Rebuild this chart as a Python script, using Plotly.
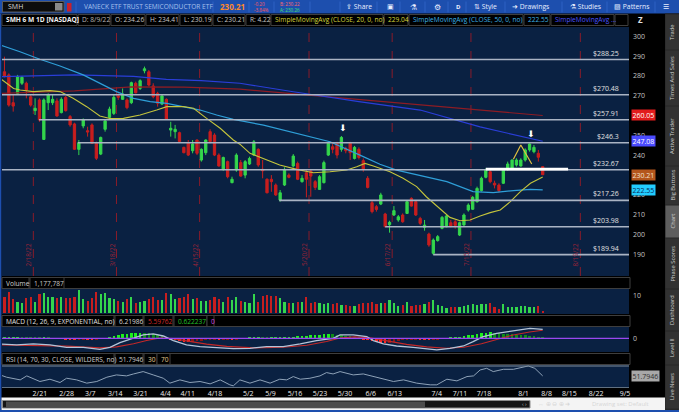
import plotly.graph_objects as go

W, H = 679, 412

# ---------------- data: x is the trading day, 0 = 2/18/22 ----------------
first_day = -6  # 2/10/22

opens = [282.1, 280.5, 266.5, 271.2, 276.3, 276.3, 269.5, 262.5, 267.9, 248.0,
         266.5, 266.5, 267.4, 261.5, 269.2, 259.5, 255.8, 243.0, 254.8, 252.4,
         255.3, 246.0, 240.6, 253.1, 259.1, 261.1, 269.9, 268.2, 267.9, 266.5,
         276.3, 273.7, 282.6, 282.1, 274.9, 271.2, 265.8, 268.2, 252.7, 251.9,
         251.4, 244.0, 246.4, 242.3, 247.7, 237.6, 241.3, 251.9, 250.2, 240.1,
         232.9, 236.8, 226.2, 232.6, 236.3, 230.0, 235.6, 240.1, 243.0, 232.9,
         227.9, 227.9, 225.0, 217.4, 225.0, 230.0, 234.6, 235.9, 226.7, 231.2,
         232.1, 226.7, 222.8, 226.2, 240.1, 244.3, 246.0, 243.0, 243.5, 246.0,
         238.4, 243.0, 237.3, 228.4, 216.1, 214.1, 215.4, 210.4, 205.0, 209.9,
         207.4, 209.9, 210.7, 218.3, 216.6, 208.2, 203.7, 200.3, 190.6, 197.0,
         203.2, 204.0, 206.0, 206.5, 199.8, 204.9, 212.4, 212.8, 216.6, 222.2,
         228.9, 231.7, 225.9, 225.0, 225.9, 232.9, 233.4, 235.1, 234.6, 237.6,
         242.7, 241.8, 241.0, 234.26]
highs = [289.7, 281.3, 270.4, 280.5, 280.0, 277.1, 270.4, 268.7, 268.7, 268.7,
         271.2, 270.4, 268.7, 269.2, 269.9, 260.3, 256.4, 247.7, 258.6, 254.4,
         256.1, 246.9, 249.4, 258.1, 264.5, 270.4, 271.2, 273.7, 268.7, 277.1,
         277.1, 278.3, 284.7, 283.0, 276.3, 272.0, 270.4, 268.7, 256.9, 255.3,
         251.9, 244.3, 247.7, 247.7, 248.0, 243.5, 248.0, 253.1, 251.1, 241.0,
         239.3, 237.3, 229.2, 241.0, 237.6, 237.6, 239.3, 247.7, 243.5, 237.6,
         228.4, 230.0, 225.8, 222.5, 233.9, 230.9, 240.6, 236.8, 230.0, 232.6,
         232.6, 227.5, 230.0, 237.3, 246.3, 246.0, 246.8, 249.7, 244.3, 246.8,
         244.7, 244.0, 238.4, 229.5, 217.4, 214.9, 221.1, 211.0, 207.0, 214.4,
         209.9, 210.7, 217.4, 218.8, 217.4, 209.0, 207.4, 201.0, 198.1, 199.8,
         209.4, 209.9, 207.4, 207.5, 206.5, 210.7, 215.8, 219.5, 224.2, 229.2,
         233.4, 232.6, 227.2, 225.9, 233.4, 236.8, 238.0, 238.5, 238.5, 243.5,
         246.0, 245.2, 242.7, 234.41]
lows = [279.3, 264.5, 262.0, 270.4, 275.4, 268.7, 264.5, 260.3, 256.9, 247.7,
        262.8, 265.3, 259.5, 261.1, 262.0, 254.4, 242.7, 240.1, 253.6, 249.4,
        245.7, 237.6, 240.1, 251.9, 257.8, 260.3, 267.9, 267.9, 263.2, 265.8,
        271.2, 272.9, 281.3, 274.6, 268.7, 264.5, 265.3, 257.8, 249.4, 248.5,
        246.4, 241.0, 239.6, 241.0, 240.1, 236.8, 240.1, 246.0, 239.6, 234.3,
        232.2, 228.4, 225.9, 231.7, 229.2, 228.4, 235.1, 239.6, 234.2, 228.4,
        220.8, 221.6, 219.5, 216.6, 224.5, 228.4, 233.9, 227.5, 226.2, 218.8,
        219.1, 222.5, 222.5, 225.8, 239.6, 241.0, 238.4, 241.8, 241.0, 237.6,
        237.9, 237.9, 231.7, 223.3, 210.7, 211.6, 214.9, 203.7, 201.0, 209.4,
        206.5, 206.0, 210.4, 214.1, 209.4, 204.8, 202.0, 193.9, 189.7, 196.5,
        202.7, 203.7, 203.7, 203.0, 199.3, 204.4, 211.6, 212.4, 216.1, 221.7,
        228.4, 225.9, 223.3, 221.2, 225.5, 232.2, 232.9, 234.3, 234.3, 236.8,
        241.8, 241.0, 236.8, 230.19]
closes = [279.6, 265.3, 264.8, 279.6, 279.3, 272.9, 265.3, 263.7, 257.8, 267.9,
          270.4, 268.2, 259.8, 268.2, 262.5, 255.3, 243.0, 246.4, 257.8, 251.7,
          246.0, 238.5, 249.0, 257.3, 263.3, 269.2, 269.2, 270.9, 264.0, 276.6,
          271.5, 277.6, 283.6, 275.4, 269.5, 266.2, 269.9, 258.1, 253.6, 253.1,
          246.9, 241.3, 240.1, 245.7, 241.0, 243.0, 247.7, 246.9, 240.1, 234.6,
          238.9, 229.2, 227.9, 240.1, 229.5, 236.8, 238.4, 246.8, 235.1, 232.2,
          221.1, 226.7, 220.0, 221.1, 232.9, 228.9, 239.6, 227.9, 228.4, 227.9,
          229.5, 223.8, 229.2, 236.3, 246.0, 243.0, 240.1, 249.0, 242.3, 241.3,
          244.0, 238.9, 232.9, 223.8, 211.6, 212.7, 220.0, 204.0, 206.2, 212.1,
          209.0, 206.5, 216.6, 214.4, 209.9, 205.7, 204.8, 194.8, 197.3, 199.0,
          208.7, 209.4, 204.4, 204.6, 206.0, 209.9, 214.9, 218.8, 223.3, 228.4,
          232.6, 226.7, 225.0, 222.2, 232.9, 235.6, 237.6, 237.6, 237.6, 242.7,
          245.7, 244.0, 239.0, 230.21]

# volume in millions of shares
volume_m = [9.1, 12.3, 8.0, 6.6, 5.7, 8.5, 9.1, 6.6, 11.0, 11.4,
            9.1, 9.1, 8.5, 9.1, 8.5, 8.5, 9.1, 13.3, 8.0, 7.2,
            8.5, 12.3, 11.0, 11.7, 8.5, 8.0, 7.2, 6.3, 8.0, 9.1,
            5.7, 6.3, 7.2, 8.0, 9.1, 7.6, 7.6, 11.7, 11.0, 8.0,
            8.5, 9.1, 11.0, 8.0, 8.5, 7.2, 7.2, 7.6, 9.1, 8.0,
            6.3, 9.1, 7.6, 9.1, 7.2, 6.3, 5.7, 11.0, 6.6, 9.8,
            10.4, 9.8, 9.8, 8.5, 6.6, 6.1, 5.7, 6.3, 6.6, 9.5,
            5.7, 6.6, 5.7, 5.3, 5.7, 5.3, 5.7, 4.7, 4.7, 4.2,
            4.2, 5.3, 5.7, 6.1, 6.6, 5.3, 5.7, 6.1, 7.6, 5.7,
            4.2, 4.7, 6.6, 4.2, 4.7, 4.7, 5.3, 6.6, 7.6, 4.7,
            4.2, 2.8, 3.4, 3.8, 3.8, 4.2, 4.7, 5.3, 4.7, 5.3,
            5.3, 5.7, 3.4, 2.3, 5.3, 3.8, 3.8, 3.8, 4.2, 4.2,
            3.8, 3.4, 4.2, 1.18]

macd_hist = [0.6, 0.7, 0.8, 0.9, 0.8, 0.7,
             0.6, 0.5, 0.3, 0.4, 0.3, 0.2, 0.1, -0.2,
             -0.6, -0.9, -1.1, -1.0, -0.8, -0.9, -1.0, -0.9,
             -0.3, 0.2, 0.8, 1.5, 2.2, 2.8, 3.1, 3.5, 3.8, 3.9, 3.8, 3.4, 2.8,
             2.0, 1.3, 0.5,
             -0.5, -1.3, -2.0, -2.4, -2.5, -2.3, -2.0, -1.8, -1.5,
             -1.2, -1.0, -1.0, -0.8, -0.7, -0.8, -0.5, -0.3,
             0.2, 0.4, 0.6, 0.6, 0.5, 0.4, 0.5, 0.6, 0.7, 0.9,
             1.0, 1.2, 1.3, 1.5, 1.8, 2.0, 2.4, 2.6, 3.0, 3.2, 3.0, 2.6,
             2.2, 1.8, 1.5, 1.2, 0.8,
             -0.5, -1.3, -2.2, -2.8, -3.2, -3.4, -3.0, -2.6,
             -2.0, -1.5, -1.2, -1.0, -0.8, -0.9, -1.1,
             -1.2, -1.0, -0.6, -0.2, 0.2, 0.5,
             0.8, 1.0, 1.5, 2.0, 2.6, 3.2, 3.8,
             4.0, 4.2, 3.9, 3.5, 3.3, 3.1, 2.9,
             2.6, 2.3, 2.1, 1.8, 1.5, 1.0, 0.62]

# moving averages (day, value)
sma20_day = [-7, -3.9, -2.4, 0.6, 4.4, 6.7, 9.7, 12.8, 15.8, 18.1, 21.2, 25, 28.8, 31.1,
             34.9, 37.2, 40.2, 43.3, 46.3, 47.8, 50.1, 53.2, 56.9, 60.8, 64.6, 68.4,
             72.2, 74.5, 76.4, 78.3, 82.1, 85.1, 88.2, 90.4, 93.5, 95.8, 98.1, 100.4,
             102.7, 105, 107.3, 109.6, 111.9, 114.2, 117]
sma20_val = [278.8, 273.7, 272.9, 272.1, 272.6, 272.1, 268.7, 264.5, 259.8, 258.5, 258.6,
             260.3, 262.8, 264.5, 264.5, 263.7, 258.6, 253.6, 247.7, 245.6, 241.0, 238.4,
             235.1, 232.9, 231.2, 231.7, 232.6, 234.2, 235.9, 234.6, 231.7, 228.4, 224.2,
             219.1, 213.3, 208.7, 207.0, 207.4, 209.4, 211.1, 212.4, 216.6, 221.7, 225.9,
             229.04]
sma50_day = [-7, -2.45, 2.1, 6.7, 12, 15.8, 19.6, 23.5, 27.3, 31.1, 34.9, 38.7, 42.5, 46.3,
             53.2, 60.8, 68.4, 76, 79.8, 83.6, 87.4, 91.2, 95.1, 101.1, 105.7, 110.3,
             114.2, 117]
sma50_val = [295.6, 292.2, 288.4, 285.0, 280.5, 276.3, 272.1, 268.7, 267.0, 266.2, 264.5,
             262.8, 260.3, 258.1, 255.2, 251.0, 246.8, 239.3, 235.5, 232.5, 230.5, 228.5,
             226.7, 221.7, 221.2, 222.2, 222.8, 222.55]
sma100_day = [-7, 10, 23.5, 31, 39, 47.8, 60, 75, 89, 102.7, 117]
sma100_val = [279.6, 280.5, 279.8, 278.3, 277.6, 276.3, 272.0, 267.0, 262.8, 254.3, 247.08]
sma200_day = [-7, 10, 23, 35, 47.8, 65, 85, 102.7, 117]
sma200_val = [271.2, 272.5, 274.5, 274.3, 273.3, 270.0, 266.0, 262.5, 260.05]

macd_day = [-7, -3.2, 0.6, 4.4, 8.2, 12, 15.8, 18.1, 20.4, 23.5, 25.7, 28, 30.3, 32.6,
            35.6, 38.7, 42.5, 46.3, 50.1, 53.9, 57.7, 61.6, 65.3, 69.1, 70.7, 73.7,
            76.8, 78.3, 80.6, 83.6, 87.4, 90.5, 92.8, 95.8, 98.9, 101.1, 103.4, 106.5,
            110.3, 114.1, 117]
macd_val = [-3.9, -4.6, -3.9, -4.6, -6.2, -6.2, -7.6, -6.2, -3.0, 0.0, 2.3, 3.0, 1.6,
            -1.6, -4.6, -5.7, -6.2, -7.1, -6.9, -5.7, -5.7, -3.9, -1.6, 0.0, 2.3, 2.3,
            1.2, -1.6, -3.9, -5.3, -6.2, -7.1, -8.0, -6.9, -5.3, -2.3, 1.2, 3.4, 5.3,
            6.9, 6.22]
signal_day = [-7, 0.6, 8.2, 15.8, 19.6, 23.5, 26.5, 29.5, 32.6, 35.6, 40.2, 44.8, 50.9,
              57.7, 63.1, 67.6, 70.7, 74, 77.5, 81.4, 85.9, 90.5, 95, 99, 103, 106.5,
              110.3, 114, 117]
signal_val = [-4.6, -4.8, -5.4, -6.6, -5.9, -3.8, -1.5, 0.2, -0.2, -1.8, -4.0, -5.6, -6.6,
              -6.2, -4.8, -2.2, 0.2, 1.0, 0.4, -1.8, -4.2, -5.9, -6.9, -6.2, -3.8, -0.8,
              2.3, 4.4, 5.6]

rsi_day = [-7, -5.5, -2.4, -0.9, 2.1, 4.4, 6.7, 8.2, 10.5, 12.8, 15.1, 17.4, 19.6, 21.9,
           23.5, 25.7, 28, 30.3, 31.8, 34.1, 36.4, 38.7, 41, 43.3, 45.5, 46.3, 47.8, 50.1,
           52.4, 54.7, 56.9, 58.5, 60, 61.6, 63.8, 66.1, 67.6, 69.1, 70.7, 73.7, 76, 79.1,
           82.9, 85.2, 88.2, 91.3, 92.8, 95.1, 97.4, 99.7, 101.2, 102.7, 104.2, 105.7, 108,
           110.3, 112.6, 113.7, 115.2, 117]
rsi_val = [53.6, 49.4, 44.5, 51.8, 41.5, 45.7, 39.7, 47.5, 44.5, 38.5, 41.5, 49.4, 53.6,
           51.8, 55.4, 59.7, 53.6, 47.5, 38.5, 44.5, 39.7, 41.5, 37.2, 44.5, 35.4, 33.6,
           44.5, 38.5, 44.5, 38.5, 45.7, 44.5, 50.6, 45.7, 47.5, 51.8, 57.9, 55.4, 59.7,
           53.6, 55.4, 49.4, 41.5, 44.5, 38.5, 35.4, 35.4, 45.7, 42.7, 50.6, 51.8, 62.7,
           65.7, 59.7, 63.9, 63.9, 67.5, 70.0, 65.7, 51.79]

levels = [288.25, 270.48, 257.91, 246.3, 232.67, 217.26, 203.98, 189.94]
level_from = [-7, -7, 1.9, 10.8, -7, 56.8, 81, 92]

support_level = 233.0
support_from, support_to = 104, 122.8

pattern_day = [110.3, 112, 114.5]
pattern_val = [238.0, 245.2, 235.6]

arrow_day = [71.3, 114.3]
arrow_val = [251.0, 248.4]

expiry_day = [0, 19, 38, 63, 82, 100, 125]
expiry_lbl = ["2/18/22", "3/18/22", "4/15/22", "5/20/22", "6/17/22", "7/15/22", "8/19/22"]

tick_day = [2.1, 8.2, 13.6, 19.3, 25.1, 30.8, 35.9, 42.1, 49.7, 54.8, 60.4, 66.1,
            71.8, 77.7, 83.2, 92.8, 98.1, 103.6, 112.6, 117.9, 123.1, 129.2, 135.8]
tick_lbl = ["2/21", "2/28", "3/7", "3/14", "3/21", "4/4", "4/11", "4/18", "5/2", "5/9",
            "5/16", "5/23", "5/30", "6/6", "6/13", "7/4", "7/11", "7/18", "8/1", "8/8",
            "8/15", "8/22", "9/5"]

price_ticks = [190, 200, 210, 220, 230, 240, 250, 260, 270, 280, 290, 300]

tags = [(260.05, "#e21c1c", "#ffffff"), (247.08, "#4b4bff", "#ffffff"),
        (230.21, "#b4561c", "#f0e0d0"), (222.55, "#22ccff", "#0a2a55")]

# ---------------- styling ----------------
FONT = "Open Sans"
NAVY = "#0a2142"
GREEN = "#34d64c"
RED = "#c81e1e"
BLUE_BAR = "#1d4fae"

X_START, X_END = -6.56, 136.72


def px(x):
    return x / W


def py(y):
    return 1 - y / H


days = list(range(first_day, first_day + len(closes)))
vol_colors = [GREEN if c >= o else RED for o, c in zip(opens, closes)]

hist_colors = []
prev = 0
for v in macd_hist:
    if v >= 0:
        hist_colors.append("#1cf01c" if v >= prev else "#0e8c18")
    else:
        hist_colors.append("#ff2626" if v <= prev else "#8c1414")
    prev = v

fig = go.Figure()

fig.add_trace(go.Scatter(x=sma200_day, y=sma200_val, mode="lines",
                         line=dict(color="#8e1c24", width=1.2), xaxis="x", yaxis="y"))
fig.add_trace(go.Scatter(x=sma100_day, y=sma100_val, mode="lines",
                         line=dict(color="#2a3ed8", width=1.2), xaxis="x", yaxis="y"))

fig.add_trace(go.Candlestick(
    x=days, open=opens, high=highs, low=lows, close=closes,
    increasing=dict(line=dict(color=GREEN, width=1), fillcolor=GREEN),
    decreasing=dict(line=dict(color=RED, width=1), fillcolor=RED),
    whiskerwidth=0, xaxis="x", yaxis="y"))

fig.add_trace(go.Scatter(x=sma50_day, y=sma50_val, mode="lines",
                         line=dict(color="#2f9fd8", width=1.2), xaxis="x", yaxis="y"))
fig.add_trace(go.Scatter(x=sma20_day, y=sma20_val, mode="lines",
                         line=dict(color="#c4c43c", width=1.1), xaxis="x", yaxis="y"))
fig.add_trace(go.Scatter(x=pattern_day, y=pattern_val, mode="lines",
                         line=dict(color="#e0c040", width=1.2), xaxis="x", yaxis="y"))

# volume
fig.add_trace(go.Bar(x=days, y=volume_m, marker_color=vol_colors, marker_line_width=0,
                     width=0.5, xaxis="x2", yaxis="y2"))

# MACD
fig.add_trace(go.Bar(x=days, y=macd_hist, marker_color=hist_colors, marker_line_width=0,
                     width=0.6, xaxis="x3", yaxis="y3"))
fig.add_trace(go.Scatter(x=signal_day, y=signal_val, mode="lines",
                         line=dict(color="#c42828", width=1.1), xaxis="x3", yaxis="y3"))
fig.add_trace(go.Scatter(x=macd_day, y=macd_val, mode="lines",
                         line=dict(color="#b4c4d8", width=1.3), xaxis="x3", yaxis="y3"))

# RSI
fig.add_trace(go.Scatter(x=rsi_day, y=rsi_val, mode="lines",
                         line=dict(color="#8ea2b8", width=1), xaxis="x4", yaxis="y4"))

shapes = []
ann = []


def rect(x0, y0, x1, y1, fill, line=None, lw=1):
    shapes.append(dict(type="rect", xref="paper", yref="paper", x0=px(x0), x1=px(x1),
                       y0=py(y1), y1=py(y0), fillcolor=fill,
                       line=dict(color=line or fill, width=lw if line else 0),
                       layer="below"))


def text(x, y, s, color="#c8c8c8", size=6.6, anchor="left", angle=0):
    ann.append(dict(x=px(x), y=py(y), xref="paper", yref="paper", text=s, showarrow=False,
                    xanchor=anchor, yanchor="middle", textangle=angle,
                    font=dict(family=FONT, size=size, color=color)))


# window frame
rect(0, 0, 679, 13.5, BLUE_BAR)
rect(0, 410, 679, 412, BLUE_BAR)
rect(0, 13.5, 1.5, 412, BLUE_BAR)

# toolbar
rect(2.5, 1.5, 64, 12, "#0c0c0c", "#5a5a5a")
rect(55, 3, 62.5, 10.5, "#8a8a8a")
text(6, 6.8, "SMH", "#d8d8d8", 7)
rect(67, 3, 71.5, 11.5, "#c8202c")
for sx in [76, 213, 249, 274, 310, 340, 377, 400, 425, 448, 466, 505, 562, 607, 655]:
    shapes.append(dict(type="line", xref="paper", yref="paper", x0=px(sx), x1=px(sx),
                       y0=py(12.5), y1=py(1.5), line=dict(color="#2f62c4", width=1)))
text(82, 7, "VANECK ETF TRUST SEMICONDUCTOR ETF", "#a6c0ec", 6.6)
text(218, 7, "<b>230.21</b>", "#ff8a2a", 8)
text(252, 4.2, "-0.20", "#ff5a5a", 4.6)
text(252, 10, "-3.84%", "#ff5a5a", 4.6)
text(278, 4.2, "B: 230.22", "#ff6a6a", 4.6)
text(278, 10, "A: 230.26", "#44e070", 4.6)
text(344, 7, "⇪ Share", "#e8eeff", 6.8)
text(385, 7, "▣", "#e8eeff", 7)
text(408, 7, "⚗", "#e8eeff", 7.5)
text(432, 7, "⚙", "#e8eeff", 7.5)
text(454, 7, "<b>D</b>", "#e8eeff", 6)
text(472, 7, "⇅ Style", "#e8eeff", 6.8)
text(510, 7, "➜ Drawings", "#e8eeff", 6.8)
text(568, 7, "⚗ Studies", "#e8eeff", 6.8)
text(612, 7, "▨ Patterns", "#e8eeff", 6.8)
text(661, 7, "☰", "#e8eeff", 7)

# chart header row
header = [("<b>SMH 6 M 1D [NASDAQ]</b>", 2, 77, "#f0f0f0"),
          ("D: 8/9/22", 78, 110, "#b8b8b8"),
          ("O: 234.26", 111, 145, "#c8c8c8"),
          ("H: 234.41", 146, 179, "#c8c8c8"),
          ("L: 230.19", 180, 212, "#c8c8c8"),
          ("C: 230.21", 213, 245, "#c8c8c8"),
          ("R: 4.22", 246, 270, "#c8c8c8"),
          ("SimpleMovingAvg (CLOSE, 20, 0, no)", 271, 383, "#d6d63c"),
          ("229.04", 384, 408, "#d6d63c"),
          ("SimpleMovingAvg (CLOSE, 50, 0, no)", 409, 523, "#3cb2e6"),
          ("222.55", 524, 550, "#3cb2e6"),
          ("SimpleMovingAvg ...", 551, 614, "#4b55ff"),
          ("", 615, 628, "#c8c8c8")]
for s, x0, x1, c in header:
    rect(x0, 14.5, x1, 25.5, "#000000", "#3e3e3e")
    text(x0 + 2, 20, s, c, 6.6)
text(636, 20, "<b>Z</b>", "#e0e0e0", 8)

# sub-panel headers
rect(2, 277.5, 630, 288.5, "#000000", "#3e3e3e")
rect(2, 315.5, 630, 326.5, "#000000", "#3e3e3e")
rect(2, 353.5, 630, 364.5, "#000000", "#3e3e3e")
subheads = [("Volume", 2, 29, 283, "#d0d0d0"), ("1,177,787", 30, 64, 283, "#c8c8c8"),
            ("MACD (12, 26, 9, EXPONENTIAL, no)", 2, 114, 321, "#e0e0e0"),
            ("6.21986", 115, 143, 321, "#d8d8d8"), ("5.59762", 144, 173, 321, "#d02a2a"),
            ("0.622237", 174, 207, 321, "#22c22a"), ("0", 207, 214, 321, "#d040e0"),
            ("RSI (14, 70, 30, CLOSE, WILDERS, no)", 2, 114, 359, "#d0d0d0"),
            ("51.7946", 115, 143, 359, "#c8c8c8"), ("30", 144, 157, 359, "#e0c890"),
            ("70", 157, 170, 359, "#e0c890")]
for s, x0, x1, yc, c in subheads:
    rect(x0, yc - 5.5, x1, yc + 5.5, "#000000", "#3e3e3e")
    text(x0 + 2, yc, s, c, 6.6)

# right side tabs
rect(665, 13.5, 679, 410, "#262626")
tabs = [("Trade", 14, 50), ("Times And Sales", 50, 106), ("Active Trader", 106, 166),
        ("Big Buttons", 166, 205), ("Chart", 205, 238), ("Phase Scores", 238, 289),
        ("Dashboard", 289, 331), ("Level II", 331, 365), ("Live News", 365, 409)]
for s, y0, y1 in tabs:
    rect(665.5, y0 + 0.5, 679, y1 - 0.5, "#5e5e5e" if s == "Chart" else "#323232")
    text(672, (y0 + y1) / 2, s, "#d0d0d0", 5.8, anchor="center", angle=-90)

# scrollbar
rect(1.5, 397.5, 665, 410, "#f4f4f4")
rect(2.5, 400.5, 530, 408, "#151515", "#8a8a8a")
rect(6, 401.5, 425, 407, "#4c4c4c")
text(520, 404.3, "‹ ›", "#bbbbbb", 5.5)
text(536, 404.3, "↔ ⊕ ⊖ ⊕ ➜", "#d6d6d6", 6)
text(590, 404.3, "Drawing set: Default", "#d6d6d6", 6)

# price levels and lines in data space
for lv, x0 in zip(levels, level_from):
    shapes.append(dict(type="line", xref="x", yref="y", x0=x0, x1=X_END, y0=lv, y1=lv,
                       line=dict(color="#aab4c4", width=1.6), layer="above"))
    ann.append(dict(x=px(621), y=lv, xref="paper", yref="y", text=f"${lv:g}",
                    showarrow=False, xanchor="right", yanchor="bottom", yshift=0,
                    font=dict(family=FONT, size=7, color="#e0e0e0")))
shapes.append(dict(type="line", xref="x", yref="y", x0=support_from, x1=support_to,
                   y0=support_level, y1=support_level, line=dict(color="#ffffff", width=2.6)))
for d, lbl in zip(expiry_day, expiry_lbl):
    shapes.append(dict(type="line", xref="x", yref="y domain", x0=d + 0.6, x1=d + 0.6,
                       y0=0, y1=1, line=dict(color="#8a1c2a", width=1, dash="dash"),
                       layer="below"))
    ann.append(dict(x=d - 0.3, y=py(255), xref="x", yref="paper", text=lbl,
                    showarrow=False, textangle=-90, xanchor="center", yanchor="middle",
                    font=dict(family=FONT, size=6.4, color="#9a2438")))
for d, v in zip(arrow_day, arrow_val):
    ann.append(dict(x=d, y=v, xref="x", yref="y", text="⬇", showarrow=False,
                    xanchor="center", yanchor="bottom", yshift=-2,
                    font=dict(family="DejaVu Sans", size=9, color="#ffffff")))

# indicator reference lines
shapes.append(dict(type="line", xref="x3 domain", yref="y3", x0=0, x1=1, y0=0, y1=0,
                   line=dict(color="#9a48f0", width=1.2)))
for lv in [70, 30]:
    shapes.append(dict(type="line", xref="x4 domain", yref="y4", x0=0, x1=1, y0=lv, y1=lv,
                       line=dict(color="#7f8c98", width=1.2)))

# right axis tags
for v, bg, fg in tags:
    ann.append(dict(x=px(630.5), y=v, xref="paper", yref="y", text=f"{v:.2f}",
                    showarrow=False, xanchor="left", yanchor="middle", bgcolor=bg,
                    borderpad=0.5, font=dict(family=FONT, size=7, color=fg)))
ann.append(dict(x=px(630.5), y=rsi_val[-1], xref="paper", yref="y4", text="51.7946",
                showarrow=False, xanchor="left", yanchor="middle", bgcolor="#a8a8a8",
                borderpad=0.5, font=dict(family=FONT, size=7, color="#303030")))

xdom = [px(2), px(629)]
common_x = dict(domain=xdom, range=[X_START, X_END], showgrid=False, zeroline=False,
                showline=False, fixedrange=True)
common_y = dict(side="right", showgrid=False, zeroline=False, showline=False, ticks="",
                tickfont=dict(family=FONT, size=7, color="#c4c4c4"), ticklabelstandoff=3)

fig.update_layout(
    width=W, height=H, margin=dict(l=0, r=0, t=0, b=0),
    paper_bgcolor="#000000", plot_bgcolor=NAVY, showlegend=False,
    font=dict(family=FONT, size=7, color="#c8c8c8"),
    xaxis=dict(**common_x, anchor="y", showticklabels=False, rangeslider=dict(visible=False)),
    xaxis2=dict(**common_x, anchor="y2", matches="x", showticklabels=False),
    xaxis3=dict(**common_x, anchor="y3", matches="x", showticklabels=False),
    xaxis4=dict(**common_x, anchor="y4", matches="x", tickvals=tick_day, ticktext=tick_lbl,
                ticks="", tickfont=dict(family=FONT, size=7, color="#ececec")),
    yaxis=dict(**common_y, anchor="x", domain=[py(276), py(27)], range=[179.16, 304.65],
               tickvals=price_ticks),
    yaxis2=dict(**common_y, anchor="x2", domain=[py(314), py(289)], range=[-0.4, 13.8],
                tickvals=[10]),
    yaxis3=dict(**common_y, anchor="x3", domain=[py(352), py(327)], range=[-9.45, 7.8],
                tickvals=[0]),
    yaxis4=dict(**common_y, anchor="x4", domain=[py(388), py(365)], range=[29.6, 71.8],
                showticklabels=False),
    shapes=shapes, annotations=ann, bargap=0, boxgap=0.25,
)

# the page's default body margin would push the 679x412 figure off the window
fig.write_html("out.html", config={"displayModeBar": False},
               post_script="document.body.style.margin='0';")
